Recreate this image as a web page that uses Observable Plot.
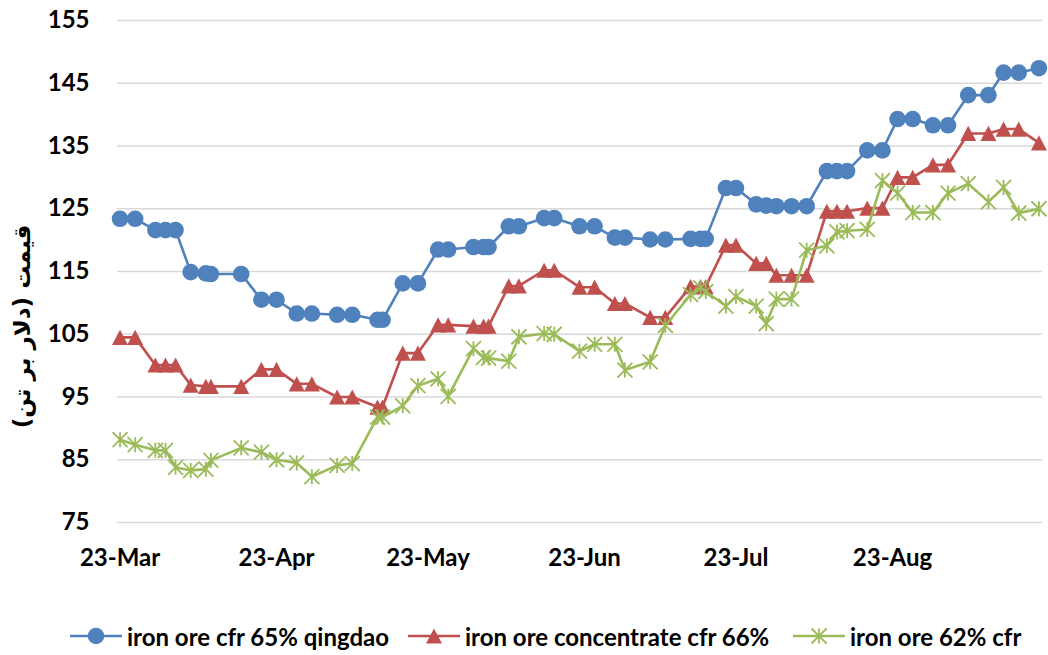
<!DOCTYPE html>
<html>
<head>
<meta charset="utf-8">
<script src="https://cdn.jsdelivr.net/npm/d3@7"></script>
<script src="https://cdn.jsdelivr.net/npm/@observablehq/plot@0.6"></script>
<style>
  html, body { margin: 0; padding: 0; background: #fff; }
  #wrap { width: 1048px; height: 655px; position: relative; overflow: hidden; }
  #legend { position: absolute; left: 0; top: 612px; height: 48px; width: 1048px;
    display: flex; align-items: center; font-family: Lato, sans-serif; font-weight: 700; font-size: 24px; color: #000; }
  .item { display: flex; align-items: center; }
  .item svg { display: block; }
</style>
</head>
<body>
<div id="wrap">
  <div id="chart"></div>
  <div id="legend"></div>
</div>
<script>
// ---------- data ----------
const dates = [
  "2019-03-23","2019-03-26","2019-03-30","2019-04-01","2019-04-03","2019-04-06","2019-04-09","2019-04-10",
  "2019-04-16","2019-04-20","2019-04-23","2019-04-27","2019-04-30","2019-05-05","2019-05-08","2019-05-13",
  "2019-05-14","2019-05-18","2019-05-21","2019-05-25","2019-05-27","2019-06-01","2019-06-03","2019-06-04",
  "2019-06-08","2019-06-10","2019-06-15","2019-06-17","2019-06-22","2019-06-25","2019-06-29","2019-07-01",
  "2019-07-06","2019-07-09","2019-07-14","2019-07-16","2019-07-17","2019-07-21","2019-07-23","2019-07-27",
  "2019-07-29","2019-07-31","2019-08-03","2019-08-06","2019-08-10","2019-08-12","2019-08-14","2019-08-18",
  "2019-08-21","2019-08-24","2019-08-27","2019-08-31","2019-09-03","2019-09-07","2019-09-11","2019-09-14",
  "2019-09-17","2019-09-21"
];
const qingdao65 = [
  123.4,123.4,121.6,121.6,121.6,114.9,114.7,114.6,114.6,110.5,110.5,108.3,108.3,108.1,108.1,107.3,
  107.3,113.1,113.1,118.5,118.5,118.9,118.9,118.9,122.2,122.2,123.5,123.5,122.2,122.2,120.4,120.4,
  120.1,120.1,120.2,120.2,120.2,128.3,128.3,125.7,125.5,125.4,125.4,125.4,131.0,131.0,131.0,134.3,
  134.3,139.3,139.3,138.3,138.3,143.1,143.1,146.7,146.7,147.4
];
const concentrate66 = [
  104.5,104.5,100.1,100.1,100.1,96.9,96.7,96.7,96.7,99.4,99.4,97.1,97.1,95.0,95.0,93.4,
  93.4,102.0,102.0,106.5,106.5,106.3,106.3,106.3,112.7,112.7,115.2,115.2,112.5,112.5,109.9,109.9,
  107.7,107.7,112.6,112.6,112.6,119.2,119.2,116.3,116.3,114.4,114.4,114.4,124.6,124.6,124.6,125.1,
  125.1,130.0,130.0,132.0,132.0,137.0,137.0,137.7,137.7,135.5
];
const cfr62 = [
  88.2,87.4,86.5,86.5,83.8,83.3,83.5,84.9,86.9,86.2,85.0,84.5,82.3,84.1,84.4,91.8,
  91.8,93.6,96.8,97.9,95.1,102.7,101.3,101.2,100.7,104.6,105.1,105.0,102.3,103.4,103.4,99.3,
  100.6,106.4,111.3,112.4,111.8,109.5,111.0,109.5,106.7,110.6,110.6,118.4,119.1,121.3,121.5,121.7,
  129.5,127.5,124.4,124.4,127.5,129.0,126.1,128.4,124.3,125.0
];
const seriesNames = ["iron ore cfr 65% qingdao", "iron ore concentrate cfr 66%", "iron ore 62% cfr"];
const seriesColors = ["#4F81BD", "#C0504D", "#9BBB59"];
const yTicks = [75, 85, 95, 105, 115, 125, 135, 145, 155];
const xTickDates = ["2019-03-23","2019-04-23","2019-05-23","2019-06-23","2019-07-23","2019-08-23"];
const yTitle = "قیمت (دلار بر تن)";

// ---------- marker glyphs ----------
const triangleSym = {
  draw(ctx, size) {
    const r = Math.sqrt(size / Math.PI);
    const h = r * 0.95;
    ctx.moveTo(0, -h); ctx.lineTo(r, h); ctx.lineTo(-r, h); ctx.closePath();
  }
};
const starSym = {
  draw(ctx, size) {
    const r = Math.sqrt(size / Math.PI);
    ctx.moveTo(-r, -r); ctx.lineTo(r, r);
    ctx.moveTo(-r, r); ctx.lineTo(r, -r);
    ctx.moveTo(0, -r); ctx.lineTo(0, r);
  }
};

const parse = d3.utcParse("%Y-%m-%d");
const valueSets = [qingdao65, concentrate66, cfr62];
const rows = valueSets.map((vals, s) => dates.map((d, i) => ({date: parse(d), value: vals[i], series: seriesNames[s]})));

const fontAxis = "Lato, sans-serif";

const marks = [
  Plot.ruleY(yTicks, {stroke: "#D9D9D9", strokeWidth: 1.6}),
];
// series 0: circles
marks.push(Plot.line(rows[0], {x: "date", y: "value", stroke: seriesColors[0], strokeWidth: 2.6}));
marks.push(Plot.dot(rows[0], {x: "date", y: "value", r: 8.3, symbol: "circle", fill: seriesColors[0], stroke: "none"}));
// series 1: triangles
marks.push(Plot.line(rows[1], {x: "date", y: "value", stroke: seriesColors[1], strokeWidth: 2.6}));
marks.push(Plot.dot(rows[1], {x: "date", y: "value", r: 8, symbol: triangleSym, fill: seriesColors[1], stroke: "none"}));
// series 2: stars
marks.push(Plot.line(rows[2], {x: "date", y: "value", stroke: seriesColors[2], strokeWidth: 2.6}));
marks.push(Plot.dot(rows[2], {x: "date", y: "value", r: 7.5, symbol: starSym, fill: "none", stroke: seriesColors[2], strokeWidth: 1.8}));
// y-axis title
marks.push(Plot.text([yTitle], {frameAnchor: "left", textAnchor: "middle", rotate: -90, dx: -95, dy: 55,
  fontFamily: "DejaVu Sans", fontWeight: "bold", fontSize: 23, fill: "#000"}));

const chart = Plot.plot({
  width: 1048,
  height: 612,
  marginLeft: 117,
  marginRight: 6,
  marginTop: 20,
  marginBottom: 90,
  style: {fontFamily: fontAxis, background: "#fff", overflow: "visible"},
  x: {
    type: "utc",
    domain: [new Date("2019-03-22T12:00:00Z"), new Date("2019-09-21T17:00:00Z")],
    label: null
  },
  y: {
    domain: [75, 155],
    label: null
  },
  marks: [
    ...marks,
    Plot.axisX({ticks: xTickDates.map(parse), tickFormat: d3.utcFormat("%d-%b"), tickSize: 0, tickPadding: 26,
      fontSize: 24, fontWeight: "bold", fill: "#000", label: null}),
    Plot.axisY({ticks: yTicks, tickSize: 0, tickPadding: 28, fontSize: 24, fontWeight: "bold", fill: "#000", label: null})
  ]
});
document.getElementById("chart").appendChild(chart);

// ---------- legend ----------
const legend = document.getElementById("legend");
const glyphPaths = [
  `<circle cx="26" cy="12" r="8.3" fill="${seriesColors[0]}"/>`,
  `<path d="M26,4.4 L34,19.6 L18,19.6 Z" fill="${seriesColors[1]}"/>`,
  `<path d="M18.5,4.5 L33.5,19.5 M18.5,19.5 L33.5,4.5 M26,4.5 L26,19.5" stroke="${seriesColors[2]}" stroke-width="1.8" fill="none"/>`
];
const legendLeft = [70, 408, 793];
seriesNames.forEach((name, i) => {
  const item = document.createElement("div");
  item.className = "item";
  item.style.position = "absolute";
  item.style.left = legendLeft[i] + "px";
  item.innerHTML = `<svg width="52" height="24"><line x1="0" x2="52" y1="12" y2="12" stroke="${seriesColors[i]}" stroke-width="2.6"/>${glyphPaths[i]}</svg><span style="margin-left:5px">${name}</span>`;
  legend.appendChild(item);
});
</script>
</body>
</html>
